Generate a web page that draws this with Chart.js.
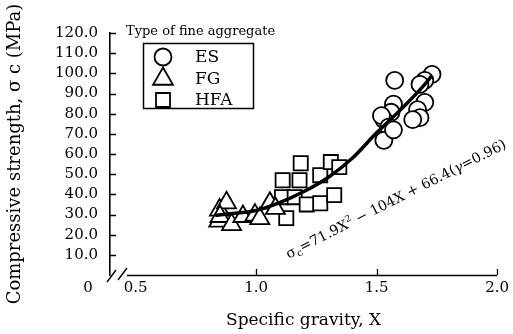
<!DOCTYPE html>
<html><head><meta charset="utf-8">
<script src="https://cdn.jsdelivr.net/npm/chart.js@4/dist/chart.umd.min.js"></script>
<style>html,body{margin:0;padding:0;background:#fff;}#wrap{width:513px;height:334px;}</style>
</head><body><div id="wrap"><canvas id="c" width="513" height="334"></canvas></div>
<script>
const xTicks = [0.5, 1.0, 1.5, 2.0];
const xTickLabels = ['0.5', '1.0', '1.5', '2.0'];
const yTicks = [10, 20, 30, 40, 50, 60, 70, 80, 90, 100, 110, 120];
const yTickLabels = ['10.0', '20.0', '30.0', '40.0', '50.0', '60.0', '70.0', '80.0', '90.0', '100.0', '110.0', '120.0'];
const originLabel = '0';
const xTitle = 'Specific gravity, X';
const yTitle = 'Compressive strength, \u03C3 c (MPa)';
const legendTitle = 'Type of fine aggregate';
const seriesNames = ['ES', 'FG', 'HFA'];

const esX = [1.575, 1.73, 1.70, 1.68, 1.57, 1.70, 1.67, 1.68, 1.65, 1.56, 1.53, 1.52, 1.55, 1.53, 1.57];
const esY = [96.5, 99.5, 96.5, 94.5, 84.7, 85.6, 82, 78, 77, 80.7, 77, 79, 73.3, 66.8, 72];

const fgX = [0.845, 0.848, 0.877, 0.85, 0.898, 0.945, 0.995, 1.015, 1.057, 1.08];
const fgY = [26.7, 32.2, 35.8, 29, 25, 29, 29.7, 28, 35.6, 33];

const hfaX = [1.11, 1.107, 1.125, 1.16, 1.18, 1.185, 1.21, 1.266, 1.266, 1.31, 1.324, 1.345];
const hfaY = [47, 38.6, 28.2, 38.6, 47, 55.4, 35, 49.5, 35.6, 56, 39.6, 53.5];

const fitX = [0.83, 0.90, 1.00, 1.10, 1.20, 1.30, 1.40, 1.50, 1.60, 1.70, 1.73];
const fitY = [29.5, 30.5, 32, 36, 41.5, 48.5, 58, 70.5, 82, 94.5, 99];

const eqRuns = [
  {t: '\u03C3', s: 14, dy: 0},
  {t: 'c', s: 10, dy: 3},
  {t: '=71.9X', s: 14, dy: 0},
  {t: '2', s: 9, dy: -6},
  {t: ' \u2212 104X + 66.4(', s: 14, dy: 0},
  {t: '\u03B3', s: 14, dy: 0, it: true},
  {t: '=0.96)', s: 14, dy: 0}
];

const pts = (xs, ys) => xs.map((x, i) => ({x: x, y: ys[i]}));
const FONT = 'DejaVu Serif';

const deco = {
  id: 'deco',
  afterDatasetsDraw(chart) {
    const ctx = chart.ctx;
    const xs = chart.scales.x, ys = chart.scales.y;
    const ca = chart.chartArea;
    ctx.save();
    ctx.strokeStyle = '#000';
    ctx.fillStyle = '#000';
    // x axis line with break
    ctx.lineWidth = 1.6;
    ctx.beginPath();
    ctx.moveTo(127, ca.bottom + 0.5);
    ctx.lineTo(ca.right, ca.bottom + 0.5);
    ctx.stroke();
    ctx.lineWidth = 1.4;
    ctx.beginPath();
    ctx.moveTo(107, 282); ctx.lineTo(116, 270);
    ctx.moveTo(118, 280); ctx.lineTo(127, 268);
    ctx.stroke();
    // inward ticks
    ctx.lineWidth = 1.3;
    ctx.beginPath();
    yTicks.forEach(v => { const y = Math.round(ys.getPixelForValue(v)) + 0.5; ctx.moveTo(ca.left, y); ctx.lineTo(ca.left + 6, y); });
    xTicks.forEach(v => { const x = Math.round(xs.getPixelForValue(v)) + 0.5; if (v > 0.6) { ctx.moveTo(x, ca.bottom); ctx.lineTo(x, ca.bottom - 6); } });
    ctx.stroke();
    // origin label
    ctx.font = '15px "' + FONT + '"';
    ctx.textAlign = 'center';
    ctx.textBaseline = 'middle';
    ctx.fillText(originLabel, 88, 288);
    // legend
    ctx.font = '13px "' + FONT + '"';
    ctx.textAlign = 'left';
    ctx.fillText(legendTitle, 126, 32);
    ctx.lineWidth = 1.5;
    ctx.strokeRect(143.5, 43.5, 110, 65);
    const ly = [57, 79, 100];
    const ds = chart.data.datasets;
    ctx.font = '17px "' + FONT + '"';
    for (let i = 0; i < 3; i++) {
      const d = ds[i];
      ctx.lineWidth = 1.8;
      ctx.beginPath();
      const cx = 163, cy = ly[i];
      if (d.pointStyle === 'circle') { ctx.arc(cx, cy, 8.5, 0, Math.PI * 2); }
      else if (d.pointStyle === 'triangle') {
        const r = 11.5;
        ctx.moveTo(cx, cy - r);
        ctx.lineTo(cx + r * Math.sin(2 * Math.PI / 3), cy + r / 2);
        ctx.lineTo(cx - r * Math.sin(2 * Math.PI / 3), cy + r / 2);
        ctx.closePath();
      } else { ctx.rect(cx - 7, cy - 7, 14, 14); }
      ctx.stroke();
      ctx.fillText(d.label, 195, cy + 1);
    }
    // equation
    ctx.translate(398, 203);
    ctx.rotate(-27 * Math.PI / 180);
    ctx.textBaseline = 'alphabetic';
    let total = 0;
    eqRuns.forEach(r => { ctx.font = (r.it ? 'italic ' : '') + r.s + 'px "' + FONT + '"'; total += ctx.measureText(r.t).width; });
    let px = -total / 2;
    eqRuns.forEach(r => { ctx.font = (r.it ? 'italic ' : '') + r.s + 'px "' + FONT + '"'; ctx.fillText(r.t, px, r.dy); px += ctx.measureText(r.t).width; });
    ctx.restore();
  }
};

new Chart(document.getElementById('c'), {
  type: 'scatter',
  data: {
    datasets: [
      {label: seriesNames[0], data: pts(esX, esY), pointStyle: 'circle', pointRadius: 8.5, borderColor: '#000', backgroundColor: '#fff', borderWidth: 1.8, order: 1},
      {label: seriesNames[1], data: pts(fgX, fgY), pointStyle: 'triangle', pointRadius: 11, borderColor: '#000', backgroundColor: '#fff', borderWidth: 1.8, order: 1},
      {label: seriesNames[2], data: pts(hfaX, hfaY), pointStyle: 'rect', pointRadius: 10, borderColor: '#000', backgroundColor: '#fff', borderWidth: 1.8, order: 1},
      {type: 'line', label: 'fit', data: pts(fitX, fitY), showLine: true, borderColor: '#000', borderWidth: 3.5, pointRadius: 0, cubicInterpolationMode: 'monotone', fill: false, order: 0}
    ]
  },
  options: {
    responsive: false,
    animation: false,
    devicePixelRatio: 1,
    layout: {padding: {top: 33, right: 11, bottom: 0, left: 0}},
    plugins: {legend: {display: false}, tooltip: {enabled: false}},
    scales: {
      x: {
        type: 'linear', min: 0.3934, max: 2.0,
        afterBuildTicks: s => { s.ticks = xTicks.map(v => ({value: v})); },
        afterFit: s => { s.height = 59; },
        grid: {display: false, drawTicks: false},
        border: {display: false},
        ticks: {padding: 4, maxRotation: 0, autoSkip: false, color: '#000', font: {family: FONT, size: 15}, callback: (v, i) => xTickLabels[i]},
        title: {display: true, text: xTitle, color: '#000', font: {family: FONT, size: 17}, padding: {top: 0, bottom: 3}}
      },
      y: {
        type: 'linear', min: 0, max: 120,
        afterBuildTicks: s => { s.ticks = yTicks.map(v => ({value: v})); },
        afterFit: s => { s.width = 110; },
        grid: {display: false, drawTicks: false},
        border: {display: true, color: '#000', width: 1.6},
        ticks: {padding: 12, autoSkip: false, color: '#000', font: {family: FONT, size: 15}, callback: (v, i) => yTickLabels[i]},
        title: {display: true, text: yTitle, color: '#000', font: {family: FONT, size: 18}, padding: {top: 5, bottom: 0}}
      }
    }
  },
  plugins: [deco]
});
</script></body></html>
